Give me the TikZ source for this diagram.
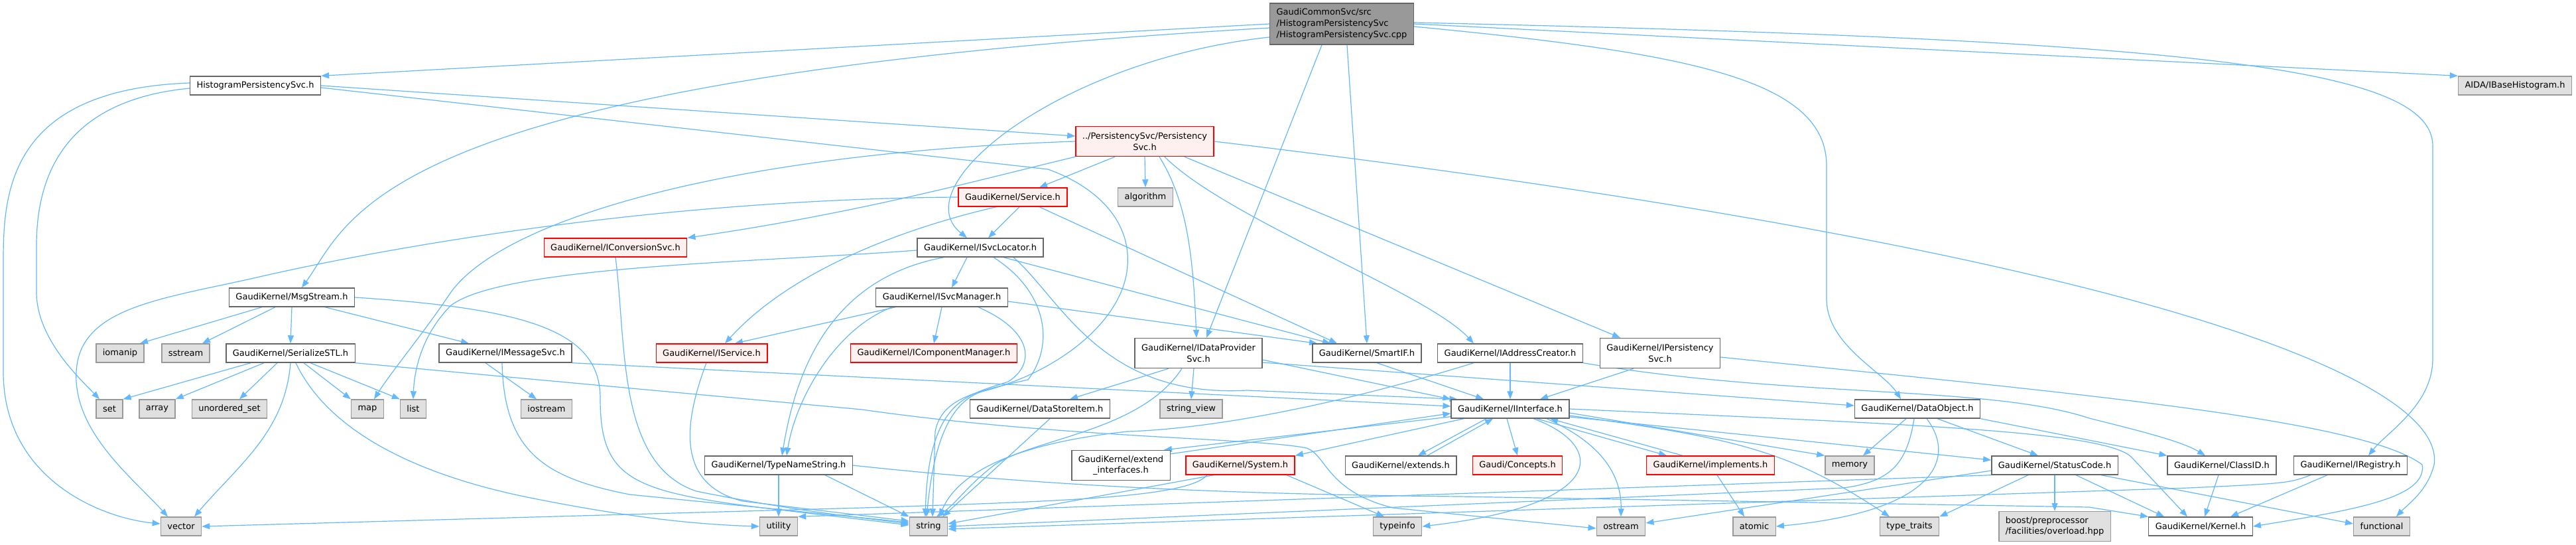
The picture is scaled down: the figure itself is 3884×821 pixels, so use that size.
\documentclass[tikz,border=0pt]{standalone}
\usepackage{fontspec}
\setmainfont{DejaVu Sans}
\usetikzlibrary{arrows.meta}
\definecolor{edgeblue}{HTML}{63B8FF}
\definecolor{docgray}{HTML}{666666}
\definecolor{cutred}{HTML}{FF0000}
\definecolor{cutpink}{HTML}{FFF0F0}
\definecolor{sysgray}{HTML}{999999}
\definecolor{sysfill}{HTML}{E0E0E0}
\definecolor{mainfill}{HTML}{999999}
\pgfdeclarelayer{bg}
\pgfdeclarelayer{edges}
\pgfsetlayers{bg,edges,main}

\begin{document}
\begin{tikzpicture}[x=1pt, y=-1pt,
	box/.style={draw, line width=1.4pt, inner xsep=10pt, inner ysep=0pt, minimum height=28pt, font=\fontsize{13}{16.7}\selectfont},
	filebox/.style={box, draw=docgray, fill=white},
	cutbox/.style={box, draw=cutred, fill=cutpink},
	sysbox/.style={box, draw=sysgray, fill=sysfill},
	mainbox/.style={box, draw=docgray, fill=mainfill, align=left, minimum height=62pt},
	twoline/.style={align=center, minimum height=45pt},
	incl/.style={draw=edgeblue, line width=1.2pt, -{Triangle[length=12pt, width=9pt]}}
]

\useasboundingbox (0,0) rectangle (3884,821);
\begin{pgfonlayer}{bg}
	\fill[white] (0,0) rectangle (3884,821);
\end{pgfonlayer}

% Fila 0-2
\node[mainbox] (cpp) at (2023,36) {GaudiCommonSvc/src\\/HistogramPersistencySvc\\/HistogramPersistencySvc.cpp};
\node[filebox] (hps) at (385,129) {HistogramPersistencySvc.h};
\node[sysbox] (aida) at (3792,129) {AIDA/IBaseHistogram.h};
\node[cutbox, twoline] (persist) at (1726,213) {../PersistencySvc/Persistency\\Svc.h};
\node[cutbox] (service) at (1527,297) {GaudiKernel/Service.h};
\node[sysbox] (algorithm) at (1727,297) {algorithm};
\node[filebox] (isvcloc) at (1478,373) {GaudiKernel/ISvcLocator.h};
\node[cutbox] (iconv) at (928,373) {GaudiKernel/IConversionSvc.h};
\node[filebox] (msgstream) at (440,448) {GaudiKernel/MsgStream.h};
\node[filebox] (isvcmgr) at (1420,448) {GaudiKernel/ISvcManager.h};

% Fila 3
\node[sysbox] (iomanip) at (181,532) {iomanip};
\node[sysbox] (sstream) at (280,532) {sstream};
\node[filebox] (serial) at (438,532) {GaudiKernel/SerializeSTL.h};
\node[filebox] (imsgsvc) at (762,532) {GaudiKernel/IMessageSvc.h};
\node[cutbox] (iservice) at (1073,532) {GaudiKernel/IService.h};
\node[cutbox] (icompmgr) at (1408,532) {GaudiKernel/IComponentManager.h};
\node[filebox, twoline] (idataprov) at (1807,532) {GaudiKernel/IDataProvider\\Svc.h};
\node[filebox] (smartif) at (2061,532) {GaudiKernel/SmartIF.h};
\node[filebox] (iaddr) at (2277,532) {GaudiKernel/IAddressCreator.h};
\node[filebox, twoline] (ipersist) at (2503,532) {GaudiKernel/IPersistency\\Svc.h};

% Fila 4
\node[sysbox] (set) at (165,616) {set};
\node[sysbox] (array) at (237,616) {array};
\node[sysbox] (uset) at (346,616) {unordered\_set};
\node[sysbox] (map) at (554,616) {map};
\node[sysbox] (list) at (623,616) {list};
\node[sysbox] (iostream) at (824,616) {iostream};
\node[filebox] (dsitem) at (1568,616) {GaudiKernel/DataStoreItem.h};
\node[sysbox] (strview) at (1796,616) {string\_view};
\node[filebox] (iinterface) at (2277,616) {GaudiKernel/IInterface.h};
\node[filebox] (dataobj) at (2891,616) {GaudiKernel/DataObject.h};

% Fila 5
\node[filebox] (typename) at (1174,701) {GaudiKernel/TypeNameString.h};
\node[filebox, twoline] (extif) at (1690,701) {GaudiKernel/extend\\\_interfaces.h};
\node[cutbox] (system) at (1870,701) {GaudiKernel/System.h};
\node[filebox] (extends) at (2112,701) {GaudiKernel/extends.h};
\node[cutbox] (concepts) at (2288,701) {Gaudi/Concepts.h};
\node[cutbox] (implements) at (2579,701) {GaudiKernel/implements.h};
\node[sysbox] (memory) at (2789,701) {memory};
\node[filebox] (statuscode) at (3098,701) {GaudiKernel/StatusCode.h};
\node[filebox] (classid) at (3350,701) {GaudiKernel/ClassID.h};
\node[filebox] (iregistry) at (3544,701) {GaudiKernel/IRegistry.h};

% Fila 6
\node[sysbox] (vector) at (273,793) {vector};
\node[sysbox] (utility) at (1174,793) {utility};
\node[sysbox] (string) at (1400,793) {string};
\node[sysbox] (typeinfo) at (2107,793) {typeinfo};
\node[sysbox] (ostream) at (2444,793) {ostream};
\node[sysbox] (atomic) at (2645,793) {atomic};
\node[sysbox] (typetraits) at (2879,793) {type\_traits};
\node[sysbox, twoline, align=left] (boost) at (3098,793) {boost/preprocessor\\/facilities/overload.hpp};
\node[filebox] (kernel) at (3318,793) {GaudiKernel/Kernel.h};
\node[sysbox] (functional) at (3591,793) {functional};

\begin{pgfonlayer}{edges}
% .cpp
\draw[incl] (cpp.west) -- (hps.north east);
\draw[incl] (cpp.east) -- (aida.north west);
\draw[incl] ([yshift=-6pt]cpp.west) .. controls (560,120) and (530,330) .. ([xshift=15pt]msgstream.north);
\draw[incl] ([yshift=-20pt]cpp.west) .. controls (1600,90) and (1360,280) .. ([xshift=-20pt]isvcloc.north);
\draw[incl] ([xshift=-30pt]cpp.south) -- ([xshift=12pt]idataprov.north);
\draw[incl] ([xshift=8pt]cpp.south) -- (smartif.north);
\draw[incl] ([yshift=-4pt]cpp.east) .. controls (2550,80) and (2754,120) .. (2754,250) -- (2754,450) .. controls (2754,520) and (2840,560) .. ([xshift=-25pt]dataobj.north);
\draw[incl] ([yshift=2pt]cpp.east) .. controls (3300,60) and (3668,100) .. (3668,220) -- (3668,540) .. controls (3668,610) and (3600,650) .. ([xshift=27pt]iregistry.north);

% HistogramPersistencySvc.h
\draw[incl] (hps.east) -- ([yshift=8pt]persist.west);
\draw[incl] ([yshift=-3pt]hps.east) -- (1580,255) .. controls (1650,280) and (1705,330) .. (1700,400) .. controls (1695,480) and (1600,560) .. (1480,590) .. controls (1420,610) and (1405,700) .. ([xshift=-3pt]string.north);
\draw[incl] ([yshift=4pt]hps.west) .. controls (5,135) and (5,300) .. (5,400) -- (5,560) .. controls (5,720) and (150,780) .. ([yshift=4pt]vector.west);
\draw[incl] ([yshift=-4pt]hps.west) .. controls (110,150) and (55,250) .. (55,370) -- (55,440) .. controls (55,510) and (120,570) .. ([xshift=-15pt]set.north);

% PersistencySvc.h
\draw[incl] ([xshift=-45pt]persist.south) -- ([xshift=40pt]service.north);
\draw[incl] (persist.south) -- (algorithm.north);
\draw[incl] (persist.south west) .. controls (1480,270) and (1300,320) .. (iconv.north east);
\draw[incl] ([xshift=22pt]persist.south) .. controls (1791,305) and (1799,390) .. ([xshift=-3pt]idataprov.north);
\draw[incl] ([xshift=30pt]persist.south) .. controls (1850,330) and (2150,440) .. ([xshift=-55pt]iaddr.north);
\draw[incl] ([xshift=60pt]persist.south) -- ([xshift=-60pt]ipersist.north);
\draw[incl] (persist.west) .. controls (1100,230) and (760,330) .. (680,440) .. controls (640,500) and (590,560) .. ([xshift=10pt]map.north);
\draw[incl] (persist.east) .. controls (3150,370) and (3690,560) .. (3670,700) .. controls (3660,740) and (3630,760) .. ([xshift=22pt]functional.north);

% Service.h
\draw[incl] ([xshift=10pt]service.south) -- ([xshift=12pt]isvcloc.north);
\draw[incl] ([xshift=-25pt]service.south) .. controls (1380,340) and (1200,400) .. ([xshift=20pt]iservice.north);
\draw[incl] ([xshift=40pt]service.south) -- ([xshift=-45pt]smartif.north);
\draw[incl] (service.west) .. controls (1000,300) and (600,370) .. (400,415) .. controls (250,450) and (120,460) .. (115,560) .. controls (110,650) and (200,720) .. ([xshift=-20pt]vector.north);

% ISvcLocator.h
\draw[incl] ([xshift=-20pt]isvcloc.south) -- ([xshift=15pt]isvcmgr.north);
\draw[incl] ([xshift=-55pt]isvcloc.south) .. controls (1250,420) and (1200,560) .. ([xshift=5pt]typename.north);
\draw[incl] ([yshift=-4pt]isvcloc.west) .. controls (1150,395) and (760,400) .. (680,460) .. controls (640,500) and (625,550) .. (list.north);
\draw[incl] ([xshift=20pt]isvcloc.south) .. controls (1580,440) and (1590,520) .. (1550,572) .. controls (1470,590) and (1420,600) .. (1410,650) -- ([xshift=6pt]string.north);
\draw[incl] ([xshift=35pt]isvcloc.south) -- ([xshift=-55pt]smartif.north);
\draw[incl] ([xshift=50pt]isvcloc.south) .. controls (1600,450) and (1660,600) .. (1880,588) -- ([xshift=10pt]iinterface.north west);

% ISvcManager.h
\draw[incl] (isvcmgr.south) -- (icompmgr.north);
\draw[incl] ([xshift=-70pt]isvcmgr.south) -- ([xshift=35pt]iservice.north);
\draw[incl] ([xshift=-75pt]isvcmgr.south) .. controls (1260,495) and (1200,600) .. ([xshift=12pt]typename.north);
\draw[incl] ([xshift=55pt]isvcmgr.south) .. controls (1560,500) and (1560,550) .. (1520,575) .. controls (1460,595) and (1400,600) .. ([xshift=-5pt]string.north);
\draw[incl] ([yshift=-6pt]isvcmgr.east) -- ([xshift=-75pt]smartif.north);

% IConversionSvc.h, MsgStream.h
\draw[incl] (iconv.south) .. controls (945,520) and (930,700) .. (1050,740) .. controls (1200,770) and (1300,780) .. ([yshift=4pt]string.west);
\draw[incl] ([xshift=-45pt]msgstream.south) -- ([xshift=30pt]iomanip.north);
\draw[incl] ([xshift=-25pt]msgstream.south) -- ([xshift=25pt]sstream.north);
\draw[incl] (msgstream.south) -- (serial.north);
\draw[incl] ([xshift=50pt]msgstream.south) -- ([xshift=-55pt]imsgsvc.north);
\draw[incl] (msgstream.east) .. controls (800,465) and (905,500) .. (905,600) .. controls (905,720) and (950,740) .. (1150,765) -- ([yshift=2pt]string.west);

% SerializeSTL.h
\draw[incl] ([xshift=-60pt]serial.south) -- (set.north east);
\draw[incl] ([xshift=-40pt]serial.south) -- (array.north east);
\draw[incl] ([xshift=-20pt]serial.south) -- ([xshift=15pt]uset.north);
\draw[incl] (serial.south) .. controls (430,650) and (360,700) .. ([xshift=20pt]vector.north);
\draw[incl] ([xshift=8pt]serial.south) .. controls (500,660) and (650,720) .. (800,750) .. controls (950,780) and (1050,790) .. (utility.west);
\draw[incl] ([xshift=20pt]serial.south) -- (map.north west);
\draw[incl] ([xshift=30pt]serial.south) -- (list.north west);
\draw[incl] (serial.south east) -- (1300,617) .. controls (1600,660) and (1900,660) .. (1970,675) .. controls (2000,685) and (2000,740) .. (2100,765) -- ([yshift=-3pt]ostream.west);

% IMessageSvc.h, IService.h
\draw[incl] ([xshift=-30pt]imsgsvc.south) -- ([xshift=-15pt]iostream.north);
\draw[incl] ([xshift=-5pt]imsgsvc.south) .. controls (760,680) and (820,720) .. (950,745) -- ([yshift=6pt]string.west);
\draw[incl] (imsgsvc.south east) -- ([yshift=4pt]iinterface.west);
\draw[incl] ([xshift=-8pt]iservice.south) .. controls (1030,640) and (1020,730) .. (1120,755) -- ([yshift=8pt]string.west);

% IDataProviderSvc.h
\draw[incl] ([xshift=-45pt]idataprov.south) -- ([xshift=45pt]dsitem.north);
\draw[incl] ([xshift=-7pt]idataprov.south) -- (strview.north);
\draw[incl] ([xshift=-25pt]idataprov.south) .. controls (1720,650) and (1560,660) .. (1500,700) .. controls (1460,730) and (1440,760) .. ([xshift=12pt]string.north);
\draw[incl] ([yshift=-10pt]idataprov.east) -- (iinterface.north west);
\draw[incl] ([yshift=-14pt]idataprov.east) -- ([yshift=5pt]dataobj.west);
\draw[incl] ([xshift=15pt]dsitem.south) -- ([xshift=-8pt]string.north east);

% TypeNameString.h
\draw[incl] (typename.south) -- (utility.north);
\draw[incl] ([xshift=70pt]typename.south) -- (string.north west);
\draw[incl] (typename.east) .. controls (1600,735) and (1900,745) .. (2200,748) -- (3150,764) -- (kernel.north west);

% SmartIF.h, IAddressCreator.h, IPersistencySvc.h
\draw[incl] ([xshift=15pt]smartif.south) -- ([xshift=-40pt]iinterface.north);
\draw[incl] (iaddr.south) -- (iinterface.north);
\draw[incl] ([xshift=-55pt]iaddr.south) .. controls (2050,600) and (1850,645) .. (1700,650) .. controls (1560,665) and (1450,700) .. ([xshift=16pt]string.north);
\draw[incl] (iaddr.south east) .. controls (2700,600) and (3000,580) .. (3150,630) .. controls (3230,650) and (3290,665) .. ([xshift=-25pt]classid.north);
\draw[incl] ([xshift=-40pt]ipersist.south) -- ([xshift=45pt]iinterface.north);
\draw[incl] ([yshift=-6pt]ipersist.east) .. controls (3100,590) and (3560,630) .. (3652,700) .. controls (3660,750) and (3550,768) .. (kernel.east);

% IInterface.h
\draw[incl] ([xshift=-70pt]iinterface.south) -- (system.north east);
\draw[incl] ([xshift=-36pt]iinterface.south) -- ([xshift=26pt]extends.north);
\draw[incl] ([xshift=40pt]extends.north) -- ([xshift=-26pt]iinterface.south);
\draw[incl] ([yshift=3pt]iinterface.south west) -- ([xshift=-10pt]extif.north east);
\draw[incl] ([yshift=-6pt]extif.north east) -- ([yshift=8pt]iinterface.south west);
\draw[incl] ([xshift=-5pt]iinterface.south) -- (concepts.north);
\draw[incl] ([xshift=40pt]iinterface.south) -- ([xshift=-66pt]implements.north);
\draw[incl] ([xshift=-42pt]implements.north) -- ([xshift=60pt]iinterface.south);
\draw[incl] ([xshift=35pt]iinterface.south) .. controls (2420,670) and (2430,760) .. (typeinfo.east);
\draw[incl] ([xshift=55pt]iinterface.south) .. controls (2420,670) and (2445,720) .. (ostream.north);
\draw[incl] ([yshift=-6pt]iinterface.east) -- (memory.north west);
\draw[incl] ([yshift=-10pt]iinterface.east) .. controls (2620,660) and (2700,680) .. ([xshift=-30pt]typetraits.north);
\draw[incl] ([yshift=-12pt]iinterface.east) -- ([yshift=8pt]statuscode.west);
\draw[incl] (iinterface.east) .. controls (2900,640) and (3180,650) .. (3215,690) -- ([xshift=-20pt]kernel.north);

% implements.h, System.h
\draw[incl] ([xshift=10pt]implements.south) -- ([xshift=-15pt]atomic.north);
\draw[incl] ([xshift=-40pt]system.south) -- ([yshift=4pt]string.east);
\draw[incl] ([xshift=70pt]system.south) -- ([xshift=-20pt]typeinfo.north);
\draw[incl] ([xshift=-50pt]system.south) .. controls (1790,750) and (1600,755) .. (1300,765) -- (vector.east);

% DataObject.h
\draw[incl] ([xshift=-17pt]dataobj.south) -- ([xshift=20pt]memory.north);
\draw[incl] ([xshift=14pt]dataobj.south) .. controls (2950,690) and (2920,770) .. (atomic.east);
\draw[incl] ([xshift=30pt]dataobj.south) -- ([xshift=-25pt]statuscode.north);
\draw[incl] (dataobj.south east) -- (classid.north west);
\draw[incl] ([xshift=-5pt]dataobj.south) .. controls (2875,700) and (2850,725) .. (2780,735) -- (string.east);

% ClassID.h, IRegistry.h, StatusCode.h
\draw[incl] ([xshift=-5pt]classid.south) -- ([xshift=6pt]kernel.north);
\draw[incl] ([xshift=-35pt]iregistry.south) -- ([xshift=45pt]kernel.north);
\draw[incl] ([xshift=-60pt]iregistry.south) .. controls (3450,728) .. (3300,735) -- ([yshift=-4pt]string.east);
\draw[incl] (statuscode.south) -- (boost.north);
\draw[incl] ([xshift=-40pt]statuscode.south) -- (typetraits.north east);
\draw[incl] ([xshift=32pt]statuscode.south) -- ([xshift=-55pt]kernel.north);
\draw[incl] ([xshift=70pt]statuscode.south) -- ([yshift=4pt]functional.west);
\draw[incl] ([yshift=-8pt]statuscode.west) -- ([yshift=5pt]ostream.east);
\draw[incl] (statuscode.south west) -- (utility.north east);
\end{pgfonlayer}
\end{tikzpicture}
\end{document}
